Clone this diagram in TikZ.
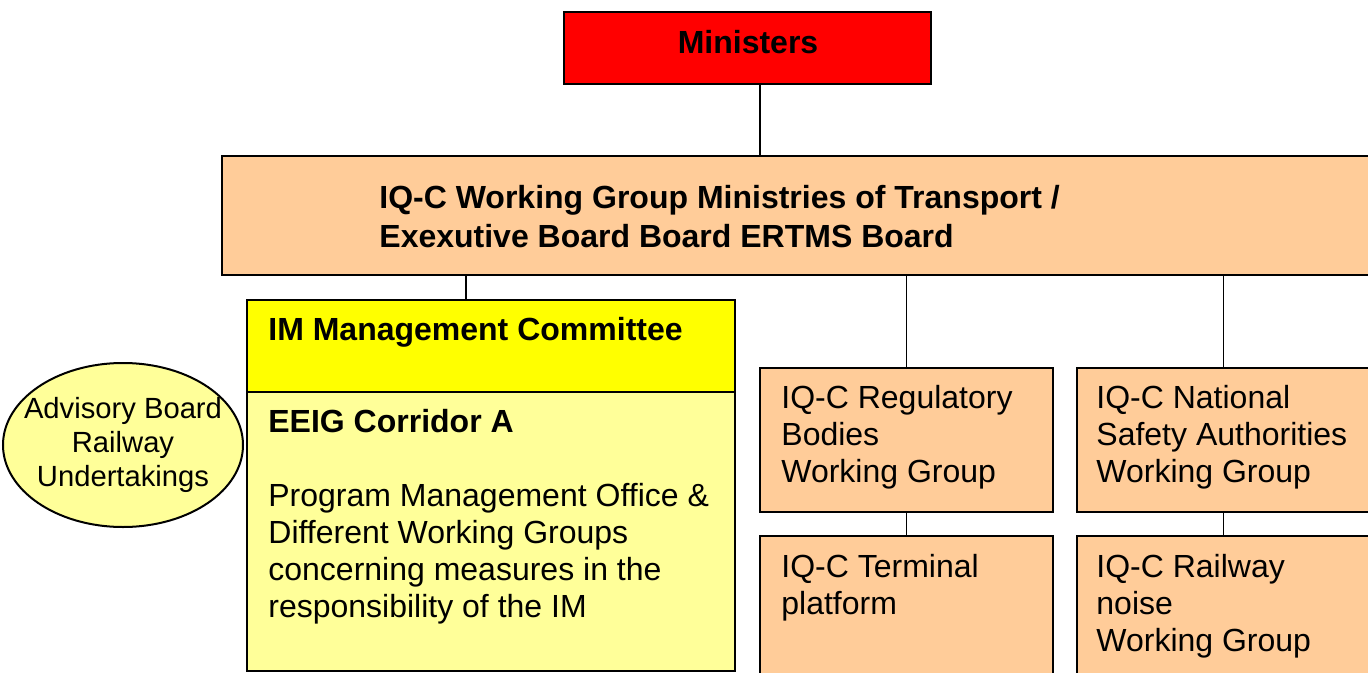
\documentclass[tikz,border=0pt]{standalone}
\usepackage{fontspec}
\setmainfont{Liberation Sans}
\usetikzlibrary{fit,shapes.geometric}
\definecolor{minred}{HTML}{FF0000}
\definecolor{peach}{HTML}{FFCC99}
\definecolor{imyellow}{HTML}{FFFF00}
\definecolor{paleyellow}{HTML}{FFFF99}

\begin{document}
\begin{tikzpicture}[x=0.5pt,y=-0.5pt,
  box/.style={draw,line width=1pt,inner sep=0pt},
  txt/.style={anchor=north west,inner sep=0pt,align=left,font=\fontsize{16}{18.5}\selectfont},
  bold txt/.style={txt,font=\fontsize{16}{19.5}\selectfont\bfseries},
  link/.style={draw,line width=0.7pt}]
  \useasboundingbox (0,0) rectangle (1368,673);
  \clip (0,0) rectangle (1368,673);

  % boxes
  \node[box,fill=minred,fit={(564,12) (931,84)}]     (ministers) {};
  \node[box,fill=peach,fit={(222,156) (1380,275)}]   (board) {};
  \node[box,fill=imyellow,fit={(247,300) (735,392)}] (imc) {};
  \node[box,fill=paleyellow,fit={(247,392) (735,671)}] (eeig) {};
  \node[box,fill=peach,fit={(760,368) (1053,512)}]   (reg) {};
  \node[box,fill=peach,fit={(1077,368) (1370,512)}]  (nsa) {};
  \node[box,fill=peach,fit={(760,536) (1053,700)}]   (term) {};
  \node[box,fill=peach,fit={(1077,536) (1370,700)}]  (noise) {};
  \node[box,fill=paleyellow,ellipse,minimum width=120pt,minimum height=82pt]
    (advisory) at (123,445) {};

  % texts
  \node[bold txt,anchor=north] (ministerstxt) at (748,29.5) {Ministers};
  \node[bold txt] (boardtxt) at (379,184.5)
    {IQ-C Working Group Ministries of Transport /\\Exexutive Board Board ERTMS Board};
  \node[bold txt] (imctxt) at (268,317) {IM Management Committee};
  \node[txt] (eeigtxt) at (268,408.5)
    {\textbf{EEIG Corridor A}\\[18.5pt]Program Management Office \&\\Different Working Groups\\concerning measures in the\\responsibility of the IM};
  \node[txt] (regtxt) at (781,384.5) {IQ-C Regulatory\\Bodies\\Working Group};
  \node[txt] (nsatxt) at (1096,384.5) {IQ-C National\\Safety Authorities\\Working Group};
  \node[txt] (termtxt) at (781,553.5) {IQ-C Terminal\\platform};
  \node[txt] (noisetxt) at (1096,553.5) {IQ-C Railway\\noise\\Working Group};
  \node[inner sep=0pt,align=center,font=\fontsize{14.6}{17}\selectfont]
    (advisorytxt) at (advisory.center) {Advisory Board\\Railway\\Undertakings};

  % connectors
  \path[link]
    ([xshift=6.25pt]ministers.south) edge ([xshift=6.25pt]ministers.south |- board.north)
    ([xshift=-12.5pt]imc.north) edge ([xshift=-12.5pt]imc.north |- board.south)
    (reg.north) edge (reg.north |- board.south)
    (nsa.north) edge (nsa.north |- board.south)
    (reg.south) edge (term.north)
    (nsa.south) edge (noise.north);
\end{tikzpicture}
\end{document}
